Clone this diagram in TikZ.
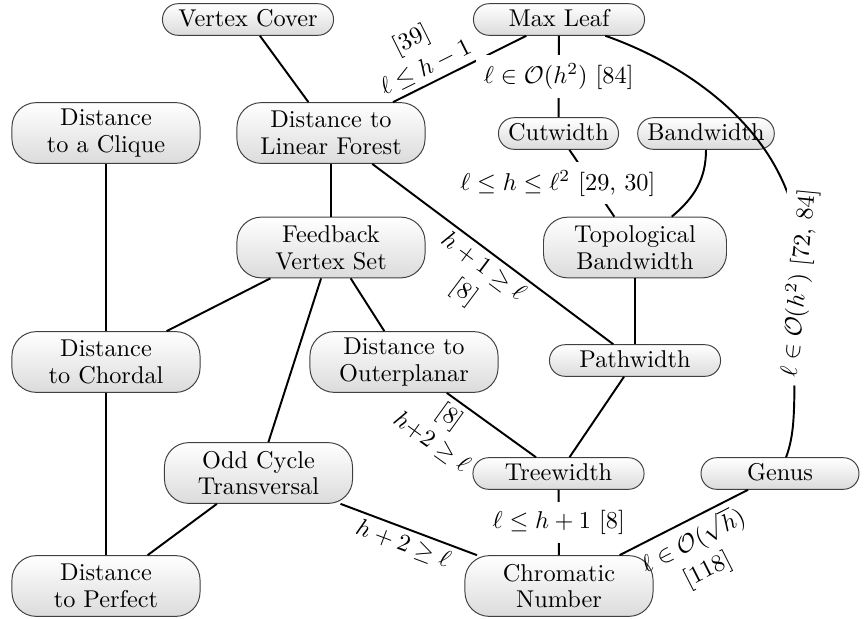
\documentclass[tikz,border=0pt]{standalone}
\usetikzlibrary{calc}
\begin{document}
\begin{tikzpicture}[x=0.4115pt,y=-0.4115pt,
  nfont/.style={font=\fontsize{10}{11}\selectfont},
  box/.style={nfont, draw=black!75, top color=white, bottom color=black!14,
    rounded corners=6.4pt, inner xsep=4pt, inner ysep=2.5pt,
    text height=1.5ex, text depth=.25ex, minimum height=13pt, minimum width=70.4pt},
  wbox/.style={nfont, draw=black!75, top color=white, bottom color=black!14,
    rounded corners=10pt, align=center, inner ysep=2.5pt,
    minimum height=25pt, minimum width=77.4pt},
  edge/.style={thick},
  lab/.style={font=\fontsize{10}{13}\selectfont, align=center, inner sep=2pt},
  wlab/.style={font=\fontsize{10}{12}\selectfont, fill=white, inner sep=3.33pt}]
\useasboundingbox (0,0) rectangle (867,618);

% nodes
\node[box] (vc) at (248,19.5) {Vertex Cover};
\node[box] (ml) at (559,19.5) {Max Leaf};
\node[wbox] (dcl) at (106,133) {Distance\\to a Clique};
\node[wbox] (dlf) at (331,133) {Distance to\\Linear Forest};
\node[box, minimum width=0pt] (cw) at (558.5,133.5) {Cutwidth};
\node[box, minimum width=0pt] (bw) at (706,133.5) {Bandwidth};
\node[wbox] (fvs) at (331,247.5) {Feedback\\Vertex Set};
\node[wbox, minimum width=75.3pt] (tb) at (635,247.5) {Topological\\Bandwidth};
\node[wbox] (dch) at (106,362) {Distance\\to Chordal};
\node[wbox] (dop) at (404,362) {Distance to\\Outerplanar};
\node[box] (pw) at (635,360.5) {Pathwidth};
\node[wbox] (oct) at (258.5,473) {Odd Cycle\\Transversal};
\node[box] (tw) at (558.5,473.5) {Treewidth};
\node[box, minimum width=65pt] (gen) at (780,473.5) {Genus};
\node[wbox] (dtp) at (106,586) {Distance\\to Perfect};
\node[wbox] (cn) at (559,586) {Chromatic\\Number};

% connectors
\draw[edge] (vc) -- (dlf);
\draw[edge] (dlf) -- node[lab, sloped, above, pos=0.3] {[39]\\$\ell \le h-1$} (ml);
\draw[edge] (ml) -- node[wlab] {$\ell \in \mathcal{O}(h^2)$ [84]} (cw);
\draw[edge] (ml) .. controls (700,69) and (812,150) .. (799,283)
  node[wlab, sloped, pos=1] {$\ell \in \mathcal{O}(h^2)$ [72, 84]}
  .. controls (790,380) and (800,420) .. (gen);
\draw[edge] (cw) -- node[wlab, xshift=-14pt] {$\ell \le h \le \ell^2$ [29, 30]} (tb);
\draw[edge] (bw) to[out=-90, in=40] (tb);
\draw[edge] (dlf) -- (fvs);
\draw[edge] (dlf) -- node[lab, sloped, below] {$h+1 \ge \ell$\\{}[8]} (pw);
\draw[edge] (dcl) -- (dch);
\draw[edge] (fvs) -- (dch);
\draw[edge] (fvs) -- (dop);
\draw[edge] (fvs) -- (oct);
\draw[edge] (tb) -- (pw);
\draw[edge] (pw) -- (tw);
\draw[edge] (dop) -- node[lab, sloped, below, pos=0.15] {[8]\\$h{+}2 \ge \ell$} (tw);
\draw[edge] (dch) -- (dtp);
\draw[edge] (oct) -- (dtp);
\draw[edge] (oct) -- node[lab, sloped, below] {$h+2 \ge \ell$} (cn);
\draw[edge] (tw) -- node[wlab] {$\ell \le h+1$ [8]} (cn);
\draw[edge] (cn) -- node[lab, sloped, below] {$\ell \in \mathcal{O}(\sqrt{h})$\\{}[118]} (gen);
\end{tikzpicture}
\end{document}
